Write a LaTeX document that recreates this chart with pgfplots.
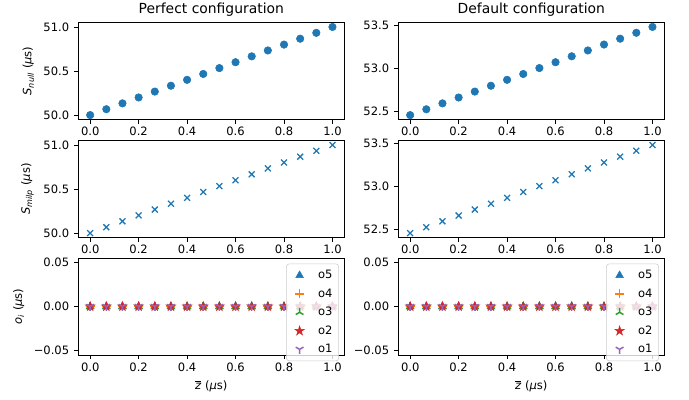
\documentclass[border=0pt]{standalone}
\usepackage{pgfplots}
\pgfplotsset{compat=1.18}
\usepackage{pgfplotstable}
\usepackage{fontspec}
\setmainfont{DejaVu Sans}
\definecolor{C0}{HTML}{1F77B4}
\definecolor{C1}{HTML}{FF7F0E}
\definecolor{C2}{HTML}{2CA02C}
\definecolor{C3}{HTML}{D62728}
\definecolor{C4}{HTML}{9467BD}

\pgfdeclareplotmark{fstar}{%
  \pgfpathmoveto{\pgfqpointpolar{90}{\pgfplotmarksize}}%
  \pgfpathlineto{\pgfqpointpolar{126}{0.382\pgfplotmarksize}}%
  \pgfpathlineto{\pgfqpointpolar{162}{\pgfplotmarksize}}%
  \pgfpathlineto{\pgfqpointpolar{198}{0.382\pgfplotmarksize}}%
  \pgfpathlineto{\pgfqpointpolar{234}{\pgfplotmarksize}}%
  \pgfpathlineto{\pgfqpointpolar{270}{0.382\pgfplotmarksize}}%
  \pgfpathlineto{\pgfqpointpolar{306}{\pgfplotmarksize}}%
  \pgfpathlineto{\pgfqpointpolar{342}{0.382\pgfplotmarksize}}%
  \pgfpathlineto{\pgfqpointpolar{18}{\pgfplotmarksize}}%
  \pgfpathlineto{\pgfqpointpolar{54}{0.382\pgfplotmarksize}}%
  \pgfpathclose\pgfusepathqfillstroke}
\pgfdeclareplotmark{triup}{%
  \pgfpathmoveto{\pgfpointorigin}\pgfpathlineto{\pgfqpointpolar{90}{\pgfplotmarksize}}%
  \pgfpathmoveto{\pgfpointorigin}\pgfpathlineto{\pgfqpointpolar{210}{\pgfplotmarksize}}%
  \pgfpathmoveto{\pgfpointorigin}\pgfpathlineto{\pgfqpointpolar{330}{\pgfplotmarksize}}%
  \pgfusepathqstroke}
\pgfdeclareplotmark{tridown}{%
  \pgfpathmoveto{\pgfpointorigin}\pgfpathlineto{\pgfqpointpolar{270}{\pgfplotmarksize}}%
  \pgfpathmoveto{\pgfpointorigin}\pgfpathlineto{\pgfqpointpolar{30}{\pgfplotmarksize}}%
  \pgfpathmoveto{\pgfpointorigin}\pgfpathlineto{\pgfqpointpolar{150}{\pgfplotmarksize}}%
  \pgfusepathqstroke}

\pgfplotstableread{
x       sp      sd      o
0.0000  50.0000 52.454  0
0.0667  50.0667 52.522  0
0.1333  50.1333 52.591  0
0.2000  50.2000 52.659  0
0.2667  50.2667 52.728  0
0.3333  50.3333 52.796  0
0.4000  50.4000 52.865  0
0.4667  50.4667 52.933  0
0.5333  50.5333 53.002  0
0.6000  50.6000 53.070  0
0.6667  50.6667 53.139  0
0.7333  50.7333 53.207  0
0.8000  50.8000 53.276  0
0.8667  50.8667 53.344  0
0.9333  50.9333 53.413  0
1.0000  51.0000 53.481  0
}\datatable

\pgfplotsset{
  base/.style={
    scale only axis, width=191.9pt, height=69.8pt,
    anchor=south west,
    xmin=-0.05, xmax=1.05,
    xtick={0,0.2,0.4,0.6,0.8,1},
    xticklabels={0.0,0.2,0.4,0.6,0.8,1.0},
    tick align=outside, tick pos=left,
    major tick length=2.9pt,
    axis line style={line width=0.6pt},
    every tick/.style={line width=0.6pt, black},
    tick label style={font=\fontsize{8.3}{10}\selectfont},
    label style={font=\fontsize{8.3}{10}\selectfont},
    every axis title shift=0pt,
    title style={font=\fontsize{10}{12}\selectfont, at={(0.5,1)}, anchor=base, yshift=6.6pt},
    xticklabel style={yshift=1pt},
    scaled y ticks=false,
  },
  dots/.style={only marks, mark=*, mark size=2.7pt, C0, mark options={draw=C0, fill=C0}},
  crosses/.style={only marks, mark=x, mark size=3pt, C0, mark options={line width=0.9pt}},
  leg/.style={
    legend style={at={(0.979,0.942)}, anchor=north east, draw=black!20, fill=white,
      fill opacity=0.8, draw opacity=1, text opacity=1, rounded corners=2pt,
      font=\fontsize{8.3}{10}\selectfont, row sep=1.7pt, inner sep=2.5pt,
      column sep=0pt},
    legend cell align=left,
  },
  limg/.style={legend image code/.code={\path (0cm,0cm) (0.63cm,0cm); \draw[##1, opacity=1, fill opacity=1, draw opacity=1] plot coordinates {(0.24cm,0cm)};}},
  ominus/.style={ymin=-0.055, ymax=0.055, ytick={-0.05,0,0.05},
    yticklabels={−0.05,0.00,0.05}},
  p5/.style={only marks, mark=triangle*, mark size=3.2pt, color=C0, mark options={fill=C0, draw=C0}, limg},
  p4/.style={only marks, mark=+, mark size=3.2pt, color=C1, mark options={draw=C1, line width=1.1pt}, limg},
  p3/.style={only marks, mark=triup, mark size=3.2pt, color=C2, mark options={draw=C2, line width=1.1pt}, limg},
  p2/.style={only marks, mark=fstar, mark size=3.5pt, color=C3, mark options={fill=C3, draw=C3}, limg},
  p1/.style={only marks, mark=tridown, mark size=3.2pt, color=C4, mark options={draw=C4, line width=1.1pt}, limg},
}

\begin{document}
\begin{tikzpicture}
\useasboundingbox (0,0) rectangle (496.08pt,288pt);
% Row 1 left
\begin{axis}[base, at={(56.2pt,201.96pt)},
  title={Perfect configuration},
  ymin=49.95, ymax=51.05, ytick={50,50.5,51}, yticklabels={50.0,50.5,51.0},
  ylabel={\textit{S}\textsubscript{\textit{null}} (\textit{μ}s)}]
\addplot[dots] table[x=x,y=sp] {\datatable};
\end{axis}
% Row 1 right
\begin{axis}[base, at={(286.6pt,201.96pt)},
  title={Default configuration},
  ymin=52.403, ymax=53.532, ytick={52.5,53,53.5}, yticklabels={52.5,53.0,53.5}]
\addplot[dots] table[x=x,y=sd] {\datatable};
\end{axis}
% Row 2 left
\begin{axis}[base, at={(56.2pt,117pt)},
  ymin=49.95, ymax=51.05, ytick={50,50.5,51}, yticklabels={50.0,50.5,51.0},
  ylabel={\textit{S}\textsubscript{\textit{milp}} (\textit{μ}s)}]
\addplot[crosses] table[x=x,y=sp] {\datatable};
\end{axis}
% Row 2 right
\begin{axis}[base, at={(286.6pt,117pt)},
  ymin=52.403, ymax=53.532, ytick={52.5,53,53.5}, yticklabels={52.5,53.0,53.5}]
\addplot[crosses] table[x=x,y=sd] {\datatable};
\end{axis}
% Row 3 left
\begin{axis}[base, leg, ominus, at={(56.2pt,32.4pt)},
  ylabel={\textit{o}\textsubscript{\textit{i}} (\textit{μ}s)},
  xlabel={$\overline{\mbox{\textit{z}}}$ (\textit{μ}s)}]
\addplot[p5] table[x=x,y=o] {\datatable};
\addlegendentry{o5}
\addplot[p4] table[x=x,y=o] {\datatable};
\addlegendentry{o4}
\addplot[p3] table[x=x,y=o] {\datatable};
\addlegendentry{o3}
\addplot[p2] table[x=x,y=o] {\datatable};
\addlegendentry{o2}
\addplot[p1] table[x=x,y=o] {\datatable};
\addlegendentry{o1}
\end{axis}
% Row 3 right
\begin{axis}[base, leg, ominus, at={(286.6pt,32.4pt)},
  xlabel={$\overline{\mbox{\textit{z}}}$ (\textit{μ}s)}]
\addplot[p5] table[x=x,y=o] {\datatable};
\addlegendentry{o5}
\addplot[p4] table[x=x,y=o] {\datatable};
\addlegendentry{o4}
\addplot[p3] table[x=x,y=o] {\datatable};
\addlegendentry{o3}
\addplot[p2] table[x=x,y=o] {\datatable};
\addlegendentry{o2}
\addplot[p1] table[x=x,y=o] {\datatable};
\addlegendentry{o1}
\end{axis}
\end{tikzpicture}
\end{document}
